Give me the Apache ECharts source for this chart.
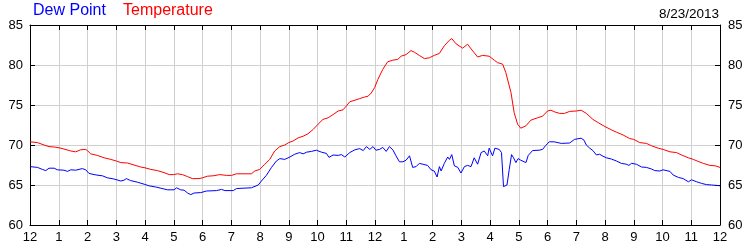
<!DOCTYPE html>
<html>
<head>
<meta charset="utf-8">
<script src="https://cdn.jsdelivr.net/npm/echarts@6/dist/echarts.min.js"></script>
<style>html,body{margin:0;padding:0;background:#fff}#c{width:750px;height:250px}</style>
</head>
<body>
<div id="c"></div>
<script>
var hourTicks = ['12','1','2','3','4','5','6','7','8','9','10','11','12','1','2','3','4','5','6','7','8','9','10','11','12'];
var dateLabel = '8/23/2013';

var tempHours = [0.00,0.26,0.49,0.66,0.84,1.01,1.18,1.42,1.59,1.76,1.94,2.01,2.11,2.34,2.58,2.81,3.00,3.16,3.39,3.62,3.85,4.00,4.20,4.43,4.66,4.84,5.00,5.13,5.30,5.48,5.65,5.88,6.00,6.17,
6.37,6.60,6.83,7.01,7.18,7.41,7.70,7.82,7.99,8.17,8.34,8.51,8.69,8.86,9.00,9.15,9.33,9.50,9.67,9.85,10.02,10.19,10.37,10.54,10.72,10.89,11.01,11.12,11.30,11.47,11.64,11.76,11.87,11.99,
12.10,12.27,12.44,12.62,12.79,12.91,13.08,13.25,13.37,13.54,13.72,13.89,14.06,14.24,14.41,14.59,14.67,14.82,15.05,15.22,15.40,15.57,15.74,15.97,16.15,16.26,16.44,16.55,16.73,16.84,16.96,17.07,17.25,17.42,17.65,17.83,18.00,18.12,
18.24,18.42,18.59,18.77,19.00,19.17,19.35,19.58,19.76,20.00,20.22,20.40,20.63,20.86,21.00,21.21,21.44,21.62,21.85,22.02,22.26,22.49,22.66,22.90,23.07,23.24,23.42,23.65,23.83,24.00];
var tempValues = [70.4,70.3,70.0,69.8,69.75,69.65,69.5,69.25,69.15,69.4,69.45,69.25,68.9,68.7,68.4,68.2,68.0,67.8,67.75,67.5,67.25,67.15,66.95,66.8,66.55,66.3,66.3,66.4,66.3,66.05,65.8,65.8,65.9,66.1,
66.15,66.3,66.2,66.2,66.4,66.4,66.4,66.75,66.95,67.6,68.2,69.25,69.8,70.0,70.3,70.5,70.9,71.1,71.4,71.95,72.6,73.2,73.4,73.8,74.25,74.4,74.9,75.4,75.6,75.8,76.0,76.1,76.5,77.2,
78.2,79.45,80.4,80.6,80.7,81.1,81.3,81.8,81.6,81.2,80.8,80.9,81.2,81.45,82.4,83.1,83.3,82.65,82.1,82.6,81.75,81.0,81.2,81.1,80.6,80.3,80.1,79.05,76.55,74.05,72.6,72.1,72.4,73.1,73.4,73.6,74.25,74.35,
74.15,73.95,73.95,74.2,74.25,74.35,73.95,73.2,72.8,72.3,71.9,71.6,71.25,70.8,70.7,70.3,70.2,69.9,69.6,69.45,69.15,69.05,68.75,68.4,68.2,67.95,67.7,67.45,67.4,67.2];

var dewHours = [0.00,0.26,0.43,0.55,0.66,0.84,0.95,1.18,1.30,1.42,1.59,1.82,1.94,2.05,2.23,2.40,2.52,2.69,2.92,3.16,3.27,3.35,3.50,3.74,3.97,4.14,4.37,4.55,4.78,5.01,5.10,5.24,5.36,5.48,5.59,5.71,5.94,6.14,
6.49,6.66,6.78,7.07,7.18,7.41,7.70,7.94,8.05,8.22,8.40,8.57,8.69,8.86,9.04,9.21,9.38,9.50,9.62,9.79,9.96,10.14,10.31,10.40,10.54,10.72,10.83,10.95,11.12,11.30,11.47,11.59,11.70,11.82,11.93,12.03,
12.16,12.27,12.39,12.50,12.62,12.73,12.85,12.97,13.08,13.20,13.31,13.43,13.54,13.66,13.83,13.95,14.06,14.16,14.24,14.30,14.41,14.53,14.59,14.67,14.76,14.88,14.99,15.11,15.22,15.34,15.45,15.57,15.69,15.80,15.92,15.97,16.09,16.17,16.32,16.40,16.47,16.59,16.67,16.75,16.82,16.90,16.98,17.07,17.25,17.33,17.48,17.71,17.83,17.94,18.06,18.23,
18.48,18.77,18.94,19.17,19.27,19.35,19.47,19.58,19.70,19.81,19.93,20.05,20.22,20.40,20.57,20.74,20.83,20.92,21.09,21.27,21.44,21.62,21.73,21.91,22.02,22.26,22.37,22.55,22.72,22.90,23.01,23.19,23.36,23.53,23.59,23.71,23.88,24.00];
var dewValues = [67.3,67.2,66.95,66.8,67.1,67.1,66.9,66.85,66.7,66.9,66.85,67.05,66.9,66.45,66.3,66.2,66.15,65.9,65.75,65.5,65.6,65.8,65.55,65.35,65.1,64.9,64.75,64.6,64.4,64.4,64.65,64.4,64.35,64.0,63.8,64.0,64.05,64.25,
64.3,64.45,64.3,64.3,64.55,64.6,64.65,65.0,65.5,66.2,67.2,68.0,68.3,68.2,68.5,68.85,69.05,68.9,69.1,69.2,69.35,69.1,68.95,68.45,68.75,68.7,68.8,68.5,69.05,69.4,69.55,69.3,69.8,69.45,69.8,69.35,
69.45,69.7,69.2,69.8,69.4,68.65,67.9,67.9,68.1,68.65,67.2,67.3,67.7,67.6,67.45,66.9,66.75,66.0,67.3,66.75,67.7,68.5,68.2,68.8,67.4,67.2,66.5,67.3,67.45,67.3,68.4,67.6,69.05,69.25,68.65,69.6,68.65,69.6,69.45,69.05,64.8,65.0,66.95,68.8,68.4,67.8,68.3,68.1,67.8,68.7,69.3,69.35,69.45,69.95,70.4,70.4,
70.2,70.25,70.7,70.85,70.6,70.0,69.6,69.3,68.75,68.85,68.6,68.4,68.25,68.0,67.7,67.6,67.45,67.7,67.6,67.25,67.2,67.0,66.8,66.75,66.9,66.7,66.25,65.95,65.8,65.4,65.65,65.4,65.2,65.05,65.2,65.0,64.95,64.9];

function pairs(xs, ys) { return xs.map(function (x, i) { return [x, ys[i]]; }); }

var font = 'Liberation Sans, Arial, sans-serif';
var chart = echarts.init(document.getElementById('c'), null, {renderer: 'canvas'});
chart.setOption({
  animation: false,
  backgroundColor: '#fff',
  title: [
    {
      text: 'Dew Point',
      left: 33, top: 2, padding: 0,
      textStyle: {fontFamily: font, fontSize: 16, fontWeight: 'normal', color: '#0000ff', lineHeight: 18}
    },
    {
      text: 'Temperature',
      left: 123, top: 2, padding: 0,
      textStyle: {fontFamily: font, fontSize: 16, fontWeight: 'normal', color: '#ff0000', lineHeight: 18}
    },
    {
      text: dateLabel,
      right: 31, top: 7, padding: 0,
      textStyle: {fontFamily: font, fontSize: 13.5, fontWeight: 'normal', color: '#000', lineHeight: 15}
    }
  ],
  grid: {left: 30, right: 30, top: 25, bottom: 25, containLabel: false},
  xAxis: [
    {
      type: 'value', min: 0, max: 24, interval: 1, position: 'bottom',
      axisLine: {show: true, onZero: false, lineStyle: {color: '#000', width: 1}},
      axisTick: {show: true, inside: true, length: 5, lineStyle: {color: '#000'}},
      axisLabel: {
        show: true, margin: 6, color: '#000', fontFamily: font, fontSize: 13,
        showMinLabel: true, showMaxLabel: true,
        formatter: function (v) { return hourTicks[Math.round(v)]; }
      },
      splitLine: {show: true, lineStyle: {color: '#d0d0d0', width: 1}}
    },
    {
      type: 'value', min: 0, max: 24, interval: 1, position: 'top',
      axisLine: {show: true, onZero: false, lineStyle: {color: '#000', width: 1}},
      axisTick: {show: true, inside: true, length: 5, lineStyle: {color: '#000'}},
      axisLabel: {show: false},
      splitLine: {show: false}
    }
  ],
  yAxis: [
    {
      type: 'value', min: 60, max: 85, interval: 5, position: 'left',
      axisLine: {show: true, onZero: false, lineStyle: {color: '#000', width: 1}},
      axisTick: {show: true, inside: true, length: 5, lineStyle: {color: '#000'}},
      axisLabel: {show: true, margin: 7, color: '#000', fontFamily: font, fontSize: 13},
      splitLine: {show: true, lineStyle: {color: '#d0d0d0', width: 1}}
    },
    {
      type: 'value', min: 60, max: 85, interval: 5, position: 'right',
      axisLine: {show: true, onZero: false, lineStyle: {color: '#000', width: 1}},
      axisTick: {show: true, inside: true, length: 5, lineStyle: {color: '#000'}},
      axisLabel: {show: true, margin: 8, color: '#000', fontFamily: font, fontSize: 13},
      splitLine: {show: false}
    }
  ],
  series: [
    {
      name: 'Dew Point', type: 'line', xAxisIndex: 0, yAxisIndex: 0,
      data: pairs(dewHours, dewValues), showSymbol: false, symbol: 'none',
      lineStyle: {color: '#0000ff', width: 1}, itemStyle: {color: '#0000ff'}, z: 3
    },
    {
      name: 'Temperature', type: 'line', xAxisIndex: 0, yAxisIndex: 0,
      data: pairs(tempHours, tempValues), showSymbol: false, symbol: 'none',
      lineStyle: {color: '#ff0000', width: 1}, itemStyle: {color: '#ff0000'}, z: 4
    }
  ]
});
</script>
</body>
</html>
